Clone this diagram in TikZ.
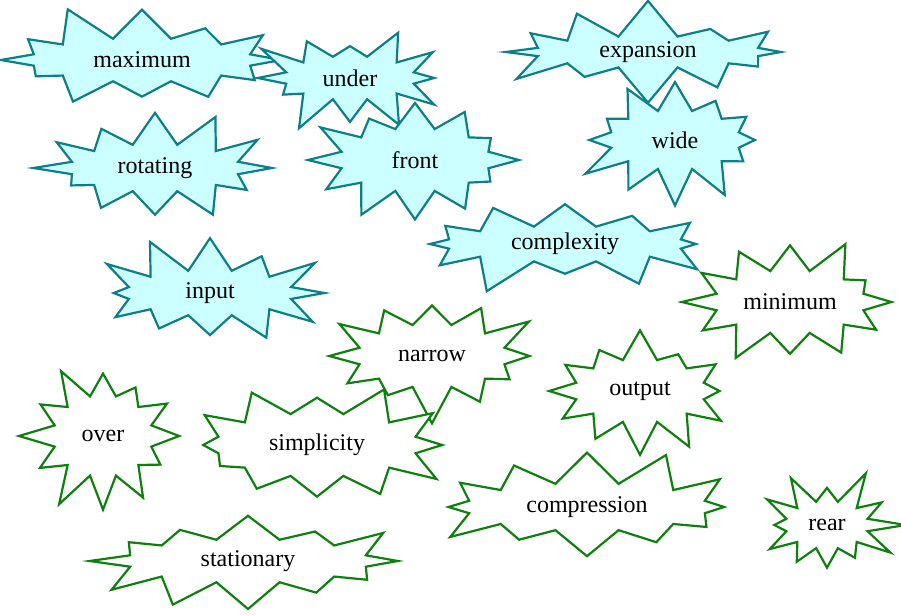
\documentclass[tikz,border=0pt]{standalone}
\usepackage{fontspec}
\setmainfont{Liberation Serif}
\usetikzlibrary{shapes.symbols}
\definecolor{burstcyan}{HTML}{CCFFFF}
\definecolor{burstteal}{HTML}{0E7F86}
\definecolor{burstgreen}{HTML}{0F7F0F}

\begin{document}
\begin{tikzpicture}[x=0.5pt,y=0.5pt,yscale=-1,
	every node/.style={font=\fontsize{12}{14}\selectfont,starburst,starburst points=12,starburst point height=19pt,line width=1.1pt,inner sep=0pt},
	cyanburst/.style={draw=burstteal,fill=burstcyan},
	greenburst/.style={draw=burstgreen,fill=white}]

	\useasboundingbox (0,0) rectangle (901,616);

	% light cyan bursts
	\node (maximum) [cyanburst,minimum width=150pt,minimum height=60pt,random starburst=11] at (142,60) {maximum};
	\node (under) [cyanburst,minimum width=104pt,minimum height=60pt,random starburst=23] at (350,78) {under};
	\node (rotating) [cyanburst,minimum width=124pt,minimum height=62pt,random starburst=37] at (155,168) {rotating};
	\node (front) [cyanburst,minimum width=114pt,minimum height=70pt,random starburst=41] at (415,160) {front};
	\node (expansion) [cyanburst,minimum width=152pt,minimum height=54pt,random starburst=53] at (648,52) {expansion};
	\node (wide) [cyanburst,minimum width=104pt,minimum height=68pt,random starburst=67] at (675,140) {wide};
	\node (complexity) [cyanburst,minimum width=158pt,minimum height=56pt,random starburst=71] at (565,244) {complexity};
	\node (input) [cyanburst,minimum width=122pt,minimum height=61pt,random starburst=83] at (210,293) {input};

	% white bursts
	\node (minimum) [greenburst,minimum width=114pt,minimum height=70pt,random starburst=97] at (790,302) {minimum};
	\node (narrow) [greenburst,minimum width=113pt,minimum height=70pt,random starburst=101] at (432,356) {narrow};
	\node (output) [greenburst,minimum width=104pt,minimum height=70pt,random starburst=113] at (640,391) {output};
	\node (over) [greenburst,minimum width=88pt,minimum height=79pt,random starburst=127] at (103,436) {over};
	\node (simplicity) [greenburst,minimum width=140pt,minimum height=70pt,random starburst=131] at (317,445) {simplicity};
	\node (compression) [greenburst,minimum width=160pt,minimum height=62pt,random starburst=149] at (587,507) {compression};
	\node (rear) [greenburst,minimum width=80pt,minimum height=62pt,random starburst=151] at (827,525) {rear};
	\node (stationary) [greenburst,minimum width=160pt,minimum height=60pt,random starburst=163] at (248,561) {stationary};

\end{tikzpicture}
\end{document}
